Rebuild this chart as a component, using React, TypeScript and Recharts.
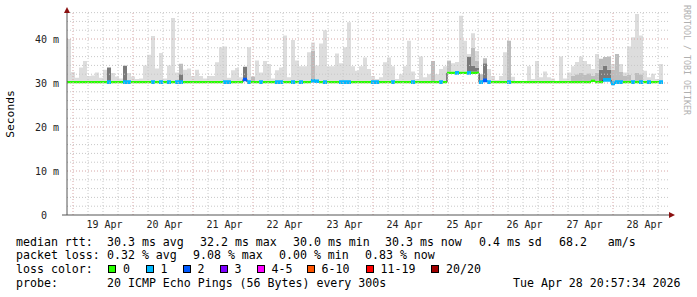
import { ComposedChart, Area, XAxis, YAxis, ReferenceLine, ReferenceDot } from "recharts";

/* SmokePing-style latency graph: grey "smoke" for the spread of the 20 pings,
   the median drawn as a thick band coloured by how many pings were lost. */

const DAY_LABELS = ["19 Apr", "20 Apr", "21 Apr", "22 Apr", "23 Apr", "24 Apr", "25 Apr", "26 Apr", "27 Apr", "28 Apr"];

// hours relative to 19 Apr 00:00; one sample every 96 minutes
const START_H = -2.4;
const STEP_H = 1.6;
const END_H = 238.8;
const Y_MAX = 46.14;

// median rtt, ms
const MEDIAN = [
  30.2, 30.2, 30.2, 30.2, 30.2, 30.2, 30.2, 30.2, 30.2, 30.2,
  30.2, 30.2, 30.2, 30.2, 30.2, 30.2, 30.2, 30.2, 30.2, 30.2,
  30.2, 30.2, 30.2, 30.2, 30.2, 30.2, 30.2, 30.2, 30.2, 30.2,
  30.2, 30.2, 30.2, 30.2, 30.2, 30.2, 30.2, 30.2, 30.2, 30.2,
  30.2, 30.2, 30.2, 30.2, 30.8, 30.2, 30.2, 30.2, 30.2, 30.2,
  30.2, 30.2, 30.2, 30.2, 30.2, 30.2, 30.2, 30.2, 30.2, 30.2,
  30.2, 30.5, 30.4, 30.2, 30.2, 30.2, 30.2, 30.2, 30.2, 30.2,
  30.2, 30.2, 30.2, 30.2, 30.2, 30.2, 30.2, 30.2, 30.2, 30.2,
  30.2, 30.2, 30.2, 30.2, 30.2, 30.2, 30.2, 30.2, 30.2, 30.2,
  30.2, 30.2, 30.2, 30.2, 30.2, 32.3, 32.3, 32.3, 32.3, 32.3,
  32.3, 32.3, 32.3, 30.2, 30.6, 30.2, 30.2, 30.2, 30.2, 30.2,
  30.2, 30.2, 30.2, 30.2, 30.2, 30.2, 30.2, 30.2, 30.2, 30.2,
  30.2, 30.2, 30.2, 30.2, 30.2, 30.2, 30.2, 30.2, 30.2, 30.2,
  30.2, 30.5, 30.2, 30.2, 30.7, 30.7, 29.9, 30.2, 30.2, 30.2,
  30.2, 30.2, 30.2, 30.2, 30.2, 30.2, 30.2, 30.2, 30.2,
];

// slowest ping of each sample, ms
const MAX_RTT = [
  40, 32.5, 31.2, 33.5, 35, 31.6, 31.7, 32.4, 31.2, 33,
  33.5, 32.3, 31.5, 31, 34, 32.3, 31.5, 30.9, 31, 34,
  36.4, 40.7, 33.3, 36.8, 31, 34, 44.8, 32.4, 34.4, 33,
  33.3, 31.6, 33, 31.6, 31, 31.6, 31.6, 34.7, 38.1, 38.3,
  31.2, 32.9, 33.4, 31.3, 33.7, 38.1, 31.3, 35.1, 32.4, 35,
  34.3, 31, 32.9, 33.5, 40.8, 31.3, 39.8, 35.1, 33.8, 33.8,
  37, 39.2, 34, 39, 42, 33.8, 33.8, 36.7, 34.5, 38.1,
  43.8, 33.8, 32.8, 33.8, 35.8, 33.2, 31.6, 30.9, 31.3, 34.7,
  35.8, 33.8, 30.9, 32, 33.8, 39.6, 32.6, 30.9, 36, 31.3,
  32, 35, 32, 33.2, 33.8, 35.2, 34.5, 34.8, 45.3, 39.6,
  36.6, 41.3, 37.3, 32, 35.6, 33.2, 31.6, 30.7, 31.6, 37,
  39.6, 31.4, 30.5, 30.5, 30.5, 33.8, 30.9, 35, 31.3, 32.6,
  31.3, 31, 30.5, 36, 31, 32.4, 33.8, 34.8, 36, 35,
  34.3, 33.2, 36.6, 35.5, 35.9, 36, 34.3, 36.6, 34.3, 32.4,
  38.3, 40.4, 45.7, 40.8, 32.8, 31.3, 32.1, 30.9, 34.3,
];

// top of the dense (dark) smoke, 0 = none
const DARK = [
  0, 0, 0, 0, 0, 0, 0, 0, 0, 0,
  33.5, 0, 0, 0, 33.9, 0, 0, 0, 0, 0,
  0, 0, 0, 0, 0, 0, 0, 0, 32, 0,
  0, 0, 0, 0, 0, 0, 0, 0, 0, 0,
  0, 0, 0, 0, 33.7, 0, 0, 0, 0, 0,
  0, 0, 0, 0, 0, 0, 0, 0, 0, 0,
  0, 0, 0, 0, 0, 0, 0, 0, 0, 0,
  0, 0, 0, 0, 0, 0, 0, 0, 0, 0,
  0, 0, 0, 0, 0, 0, 0, 0, 0, 0,
  0, 0, 0, 0, 0, 0, 0, 0, 0, 0,
  36, 34, 33.5, 0, 34.5, 0, 0, 0, 0, 0,
  0, 0, 0, 0, 0, 0, 0, 0, 0, 0,
  0, 0, 0, 0, 0, 0, 0, 0, 0, 0,
  0, 0, 0, 33, 34, 33, 0, 0, 0, 0,
  0, 0, 0, 0, 0, 0, 0, 0, 0,
];

// top of the medium smoke, 0 = none
const MID = [
  0, 0, 0, 0, 0, 0, 0, 0, 0, 0,
  0, 0, 0, 0, 0, 0, 0, 0, 0, 0,
  0, 0, 0, 0, 0, 0, 0, 0, 34.4, 0,
  0, 0, 0, 0, 0, 0, 0, 0, 0, 0,
  0, 0, 0, 0, 0, 0, 31.5, 0, 0, 0,
  0, 0, 0, 0, 0, 0, 0, 0, 0, 0,
  0, 37.3, 0, 0, 0, 0, 0, 0, 0, 0,
  0, 0, 0, 0, 0, 0, 0, 0, 0, 0,
  0, 0, 0, 0, 0, 0, 0, 0, 0, 0,
  0, 35, 0, 0, 0, 35, 0, 0, 0, 0,
  0, 38, 35, 32, 35.6, 0, 0, 0, 0, 0,
  39.6, 0, 0, 0, 0, 0, 0, 0, 0, 0,
  0, 0, 0, 0, 0, 0, 31.6, 32, 32.3, 31.8,
  32.2, 31.7, 32.4, 35.5, 35.9, 36, 33, 36.6, 32.6, 31.6,
  31.8, 0, 32.4, 32, 0, 0, 0, 0, 0,
];

// lost pings per sample, as an index into LOSS_COLORS
const LOSS = [
  0, 0, 0, 0, 0, 0, 0, 0, 0, 0,
  1, 0, 0, 0, 1, 1, 0, 0, 0, 0,
  0, 1, 0, 1, 0, 1, 0, 1, 1, 0,
  0, 0, 0, 0, 0, 0, 0, 0, 0, 1,
  1, 0, 0, 0, 2, 1, 0, 0, 1, 0,
  0, 0, 1, 1, 0, 0, 1, 0, 1, 0,
  0, 1, 1, 0, 1, 0, 0, 0, 1, 1,
  1, 0, 0, 0, 0, 0, 1, 1, 0, 0,
  0, 1, 0, 0, 0, 0, 1, 0, 0, 0,
  0, 0, 0, 1, 0, 0, 0, 1, 0, 0,
  1, 0, 0, 1, 2, 1, 0, 0, 0, 0,
  1, 0, 0, 0, 0, 0, 0, 0, 0, 0,
  0, 0, 0, 0, 0, 0, 0, 0, 0, 0,
  0, 0, 0, 0, 1, 1, 1, 1, 1, 0,
  0, 1, 0, 1, 0, 1, 0, 0, 1,
];

const LOSS_COLORS = ["#26ff00", "#00b8ff", "#0059ff", "#7e00ff", "#ff00ff", "#ff5500", "#ff0000", "#a00000"];
const LOSS_LABELS = ["0", "1", "2", "3", "4-5", "6-10", "11-19", "20/20"];

const RTT_STATS = ["median rtt:", "30.3 ms avg", "32.2 ms max", "30.0 ms min", "30.3 ms now", "0.4 ms sd", "68.2   am/s"];
const LOSS_STATS = ["packet loss:", "0.32 % avg", "9.08 % max", "0.00 % min", "0.83 % now"];
const PROBE_TEXT = ["probe:", "20 ICMP Echo Pings (56 Bytes) every 300s", "Tue Apr 28 20:57:34 2026"];

// legend layout (pixels), kept apart from the values above
const RTT_X = [16, 107, 200, 293, 385, 479, 559];
const LOSS_X = [16, 107, 193, 279, 365];
const PROBE_X = [16, 107, 513];
const SWATCH_X = [108, 145.5, 182.5, 219.5, 256.5, 306.5, 365.5, 431];
const LINE_TOP = [234.5, 248.3, 262.1, 275.9];

const MONO = "'DejaVu Sans Mono', monospace";
const LIGHT = "#dddddd";
const MEDIUM = "#bdbdbd";
const DENSE = "#7a7a7a";
const GRID = "#c8c8c8";
const MGRID = "#d6a6a6";
const AXIS = "#555555";
const ARROW = "#8b1010";

// half thickness of the median band (ms); lossy samples read a touch heavier
const HALF_BAND = 0.28;
const HALF_BAND_LOSS = 0.42;

type Row = Record<string, number>;

const rows: Row[] = MEDIAN.map((m, i) => {
  const half = LOSS[i] > 0 ? HALF_BAND_LOSS : HALF_BAND;
  const hi = m + HALF_BAND;
  const d = Math.max(DARK[i], hi);
  const md = Math.max(MID[i], d);
  const mx = Math.max(MAX_RTT[i], md);
  const row: Row = {
    t: START_H + i * STEP_H,
    med: m,
    lo: m - half,
    hi,
    dark: d - hi,
    mid: md - d,
    light: mx - md,
  };
  // one band per loss class; only the sample's own class gets a height
  LOSS_COLORS.forEach((_, k) => {
    row[`loss${k}`] = LOSS[i] === k ? half * 2 : 0;
  });
  return row;
});
// close the last step
rows.push({ ...rows[rows.length - 1], t: START_H + rows.length * STEP_H });

const minorY: number[] = [];
for (let v = 2; v < Y_MAX; v += 2) if (v % 10 !== 0) minorY.push(v);
const majorY = [10, 20, 30, 40];
const minorX: number[] = [];
for (let h = 6; h < END_H; h += 6) if (h % 24 !== 0) minorX.push(h);
const majorX = DAY_LABELS.map((_, i) => i * 24);
const dayTicks = DAY_LABELS.map((_, i) => i * 24 + 12);

const tickStyle = { fontFamily: MONO, fontSize: 10, fill: "#222" };

function ArrowUp(props: { cx?: number; cy?: number }) {
  const { cx, cy } = props;
  if (cx == null || cy == null) return null;
  return <path d={`M${cx - 3},${cy + 1} L${cx + 3},${cy + 1} L${cx},${cy - 5} Z`} fill={ARROW} />;
}

function ArrowRight(props: { cx?: number; cy?: number }) {
  const { cx, cy } = props;
  if (cx == null || cy == null) return null;
  return <path d={`M${cx - 1},${cy - 3} L${cx - 1},${cy + 3} L${cx + 5},${cy} Z`} fill={ARROW} />;
}

const textStyle = { position: "absolute" as const, fontSize: 11.6, lineHeight: "14px", whiteSpace: "pre" as const };

export default function App() {
  return (
    <div style={{ position: "absolute", left: 0, top: 0, width: 697, height: 297, background: "#fff", fontFamily: MONO, color: "#000" }}>
      <ComposedChart width={697} height={297} data={rows} margin={{ top: 12, right: 27, bottom: 52, left: 7 }}>
        <XAxis
          dataKey="t"
          type="number"
          domain={[START_H, END_H]}
          allowDataOverflow
          ticks={dayTicks}
          tickFormatter={(v: number) => DAY_LABELS[Math.round((v - 12) / 24)]}
          tick={{ ...tickStyle, dx: 1.5 }}
          tickLine={false}
          tickMargin={0}
          axisLine={false}
          height={30}
          interval={0}
        />
        <YAxis
          type="number"
          domain={[0, Y_MAX]}
          allowDataOverflow
          ticks={[0, 10, 20, 30, 40]}
          tickFormatter={(v: number) => (v === 0 ? "0\u00a0\u00a0" : `${v} m`)}
          tick={tickStyle}
          tickLine={false}
          axisLine={{ stroke: AXIS }}
          width={60}
          interval={0}
        />

        {/* smoke: transparent floor up to the median band, then dense, medium, light */}
        <Area type="stepAfter" dataKey="hi" stackId="smoke" fill="none" stroke="none" isAnimationActive={false} dot={false} activeDot={false} />
        <Area type="stepAfter" dataKey="dark" stackId="smoke" fill={DENSE} fillOpacity={1} stroke="none" isAnimationActive={false} dot={false} activeDot={false} />
        <Area type="stepAfter" dataKey="mid" stackId="smoke" fill={MEDIUM} fillOpacity={1} stroke="none" isAnimationActive={false} dot={false} activeDot={false} />
        <Area type="stepAfter" dataKey="light" stackId="smoke" fill={LIGHT} fillOpacity={1} stroke="none" isAnimationActive={false} dot={false} activeDot={false} />

        {minorY.map((v) => (
          <ReferenceLine key={`my${v}`} y={v} stroke={GRID} strokeDasharray="1 2" />
        ))}
        {minorX.map((v) => (
          <ReferenceLine key={`mx${v}`} x={v} stroke={GRID} strokeDasharray="1 2" />
        ))}
        {majorY.map((v) => (
          <ReferenceLine key={`My${v}`} y={v} stroke={MGRID} strokeDasharray="1 2" />
        ))}
        {majorX.map((v) => (
          <ReferenceLine key={`Mx${v}`} x={v} stroke={MGRID} strokeDasharray="1 2" />
        ))}

        {/* step connector: only its verticals survive under the band */}
        <Area type="stepAfter" dataKey="med" fill="none" stroke="#222" strokeWidth={1} isAnimationActive={false} dot={false} activeDot={false} />
        <Area type="stepAfter" dataKey="lo" stackId="median" fill="none" stroke="none" isAnimationActive={false} dot={false} activeDot={false} />
        {LOSS_COLORS.map((c, k) => (
          <Area
            key={`loss${k}`}
            type="stepAfter"
            dataKey={`loss${k}`}
            stackId="median"
            fill={c}
            fillOpacity={1}
            stroke="none"
            isAnimationActive={false}
            dot={false}
            activeDot={false}
          />
        ))}

        <ReferenceLine
          segment={[{ x: START_H - 2, y: 0 }, { x: END_H, y: 0 }]}
          stroke={AXIS}
          ifOverflow="visible"
        />
        <ReferenceDot x={START_H} y={Y_MAX} r={0} ifOverflow="visible" shape={<ArrowUp />} />
        <ReferenceDot x={END_H} y={0} r={0} ifOverflow="visible" shape={<ArrowRight />} />
      </ComposedChart>

      <div style={{ position: "absolute", left: 11, top: 114, transform: "translate(-50%, -50%) rotate(-90deg)", fontSize: 11.3, whiteSpace: "nowrap", lineHeight: "14px" }}>
        Seconds
      </div>
      <div style={{ position: "absolute", left: 687, top: 60, transform: "translate(-50%, -50%) rotate(90deg)", fontSize: 8.3, color: "#b0b0b0", whiteSpace: "nowrap", lineHeight: "10px" }}>
        RRDTOOL / TOBI OETIKER
      </div>

      {RTT_STATS.map((s, i) => (
        <span key={`r${i}`} style={{ ...textStyle, left: RTT_X[i], top: LINE_TOP[0] }}>{s}</span>
      ))}
      {LOSS_STATS.map((s, i) => (
        <span key={`l${i}`} style={{ ...textStyle, left: LOSS_X[i], top: LINE_TOP[1] }}>{s}</span>
      ))}
      <span style={{ ...textStyle, left: 16, top: LINE_TOP[2] }}>loss color:</span>
      {LOSS_LABELS.map((s, i) => (
        <span key={`c${i}`}>
          <span style={{ position: "absolute", left: SWATCH_X[i], top: 265, width: 6, height: 6, border: "1px solid #000", background: LOSS_COLORS[i] }} />
          <span style={{ ...textStyle, left: SWATCH_X[i] + 15, top: LINE_TOP[2] }}>{s}</span>
        </span>
      ))}
      {PROBE_TEXT.map((s, i) => (
        <span key={`p${i}`} style={{ ...textStyle, left: PROBE_X[i], top: LINE_TOP[3] }}>{s}</span>
      ))}
    </div>
  );
}
